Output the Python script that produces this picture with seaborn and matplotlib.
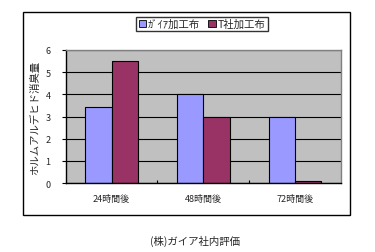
import matplotlib
matplotlib.use("Agg")
import matplotlib.pyplot as plt
import seaborn as sns
import pandas as pd
from matplotlib.patches import Rectangle, Patch

categories = ["24時間後", "48時間後", "72時間後"]
series_names = ["ｶﾞｲｱ加工布", "T社加工布"]
gaia_values = [3.45, 4.0, 3.0]
tsha_values = [5.5, 3.0, 0.08]
y_ticks = [0, 1, 2, 3, 4, 5, 6]

df = pd.DataFrame({
    "cat": categories * 2,
    "series": [series_names[0]] * 3 + [series_names[1]] * 3,
    "val": gaia_values + tsha_values,
})

sns.set_theme(style="white")
plt.rcParams['font.family'] = ['Noto Sans CJK JP', 'DejaVu Sans']

fig = plt.figure(figsize=(3.75, 2.53), dpi=100)
W, H = 375, 253
ax = fig.add_axes([65.7 / W, 1 - 184 / H, (341 - 65.7) / W, (184 - 51) / H])

sns.barplot(data=df, x="cat", y="val", hue="series", order=categories,
            hue_order=series_names, palette=["#9999FF", "#993366"],
            width=0.57, edgecolor="black", linewidth=0.8, ax=ax,
            legend=False, saturation=1)

ax.set_facecolor("#C0C0C0")
ax.set_ylim(0, 6)
ax.set_xlim(-0.5, 2.5)
ax.set_yticks(y_ticks)
ax.set_yticklabels([str(t) for t in y_ticks], fontsize=6.5)
ax.yaxis.grid(True, color="black", linewidth=0.8)
ax.set_axisbelow(True)
ax.set_xticks([0.5, 1.5])
ax.set_xticklabels([])
ax.tick_params(axis="x", direction="in", length=2, color="black", width=0.8, bottom=True)
ax.tick_params(axis="y", direction="out", length=3, color="black", width=0.8, left=True, pad=8)
for i, c in enumerate(categories):
    ax.text(i, -0.5, c, ha="center", va="top", fontsize=6.5)
ax.set_xlabel("")
ax.set_ylabel("ホルムアルデヒド消臭量", fontsize=7.5, labelpad=4)
for s in ["left", "bottom"]:
    ax.spines[s].set_color("black")
    ax.spines[s].set_linewidth(1)
for s in ["top", "right"]:
    ax.spines[s].set_color("#808080")
    ax.spines[s].set_linewidth(1)

fig.patches.append(Rectangle((23 / W, 1 - 216 / H), (350 - 23) / W, (216 - 12.7) / H,
                             transform=fig.transFigure, fill=False,
                             edgecolor="black", linewidth=1))

handles = [Patch(facecolor="#9999FF", edgecolor="black", linewidth=0.6),
           Patch(facecolor="#993366", edgecolor="black", linewidth=0.6)]
fig.legend(handles, series_names, loc="center", bbox_to_anchor=(202 / W, 1 - 25 / H),
           ncol=2, fontsize=7.5, frameon=True, fancybox=False, edgecolor="black",
           handlelength=0.7, handleheight=0.7, handletextpad=0.2, columnspacing=0.8,
           borderpad=0.2, borderaxespad=0)

fig.text(195 / W, 1 - 241 / H, "(株)ガイア社内評価", ha="center", va="center", fontsize=7.5)

fig.savefig("out.png", dpi=100)
